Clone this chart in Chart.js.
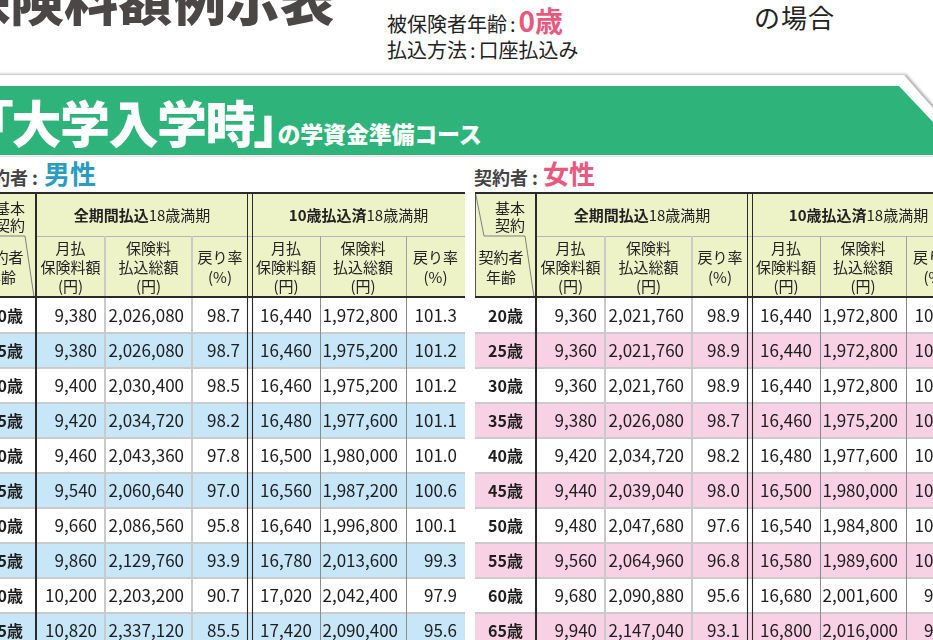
<!DOCTYPE html>
<html lang="ja">
<head>
<meta charset="utf-8">
<title>保険料額例示表</title>
<script src="https://cdn.jsdelivr.net/npm/chart.js@4.4.1/dist/chart.umd.min.js"></script>
<style>
html, body { margin: 0; padding: 0; width: 933px; height: 640px; overflow: hidden; background: #fff; }
#page { position: relative; width: 933px; height: 640px; overflow: hidden;
  font-family: "Noto Sans CJK JP", "Noto Sans", sans-serif; color: #222; }
.t { position: absolute; white-space: nowrap; line-height: 1; }
.c { margin: 0 3px; }
canvas.body { position: absolute; }
</style>
</head>
<body>
<div id="page">
  <svg style="position:absolute;left:0;top:0" width="933" height="640">
    <defs>
      <filter id="sh" x="-5%" y="-50%" width="110%" height="200%">
        <feDropShadow dx="2" dy="-0.5" stdDeviation="1.6" flood-color="#777" flood-opacity="0.7"/>
      </filter>
    </defs>
    <polygon points="-10,75 904,75 975,156 -10,156" fill="#fff" filter="url(#sh)"/>
    <polygon points="-10,86 899,86 964,155 -10,155" fill="#2eb47a"/>
  </svg>

  <div class="t" style="left:-44px;top:-29px;font-size:54px;font-weight:900;color:#4a4746;">保険料額例示表</div>
  <div class="t" style="left:387px;top:6px;font-size:20px;color:#222;">被保険者年齢<span class="c">:</span><span style="font-size:28px;font-weight:700;color:#e9587f;">0歳</span></div>
  <div class="t" style="left:754px;top:4px;font-size:26px;color:#222;letter-spacing:1px;">の場合</div>
  <div class="t" style="left:387px;top:40px;font-size:20px;color:#222;">払込方法<span class="c">:</span>口座払込み</div>

  <div class="t" style="left:-12px;top:96px;font-size:50px;font-weight:900;color:#fff;font-feature-settings:'palt';letter-spacing:-1.5px;">「大学入学時」<span style="font-size:23px;font-feature-settings:normal;letter-spacing:-0.2px;">の学資金準備コース</span></div>

  <div class="t" style="left:-26px;top:168px;font-size:18px;font-weight:700;color:#444;">契約者 :</div>
  <div class="t" style="left:44px;top:160px;font-size:26px;font-weight:700;color:#2a9cc0;">男性</div>
  <div class="t" style="left:474px;top:168px;font-size:18px;font-weight:700;color:#444;">契約者 :</div>
  <div class="t" style="left:543px;top:160px;font-size:26px;font-weight:700;color:#e9587f;">女性</div>

  <canvas id="maleBody" class="body"></canvas>
  <canvas id="femaleBody" class="body"></canvas>
</div>

<script>
// ---- data ----
const AGES = ["20歳","25歳","30歳","35歳","40歳","45歳","50歳","55歳","60歳","65歳"];
const GROUP_TITLES = ["全期間払込", "10歳払込済"];
const GROUP_SUFFIX = "18歳満期";
const SUB_HEADERS = [["月払","保険料額","(円)"], ["保険料","払込総額","(円)"], ["戻り率","(%)"]];

const maleMonthlyAll = [9380, 9380, 9400, 9420, 9460, 9540, 9660, 9860, 10200, 10820];
const maleTotalAll = [2026080, 2026080, 2030400, 2034720, 2043360, 2060640, 2086560, 2129760, 2203200, 2337120];
const maleRateAll = [98.7, 98.7, 98.5, 98.2, 97.8, 97.0, 95.8, 93.9, 90.7, 85.5];
const maleMonthly10 = [16440, 16460, 16460, 16480, 16500, 16560, 16640, 16780, 17020, 17420];
const maleTotal10 = [1972800, 1975200, 1975200, 1977600, 1980000, 1987200, 1996800, 2013600, 2042400, 2090400];
const maleRate10 = [101.3, 101.2, 101.2, 101.1, 101.0, 100.6, 100.1, 99.3, 97.9, 95.6];

const femaleMonthlyAll = [9360, 9360, 9360, 9380, 9420, 9440, 9480, 9560, 9680, 9940];
const femaleTotalAll = [2021760, 2021760, 2021760, 2026080, 2034720, 2039040, 2047680, 2064960, 2090880, 2147040];
const femaleRateAll = [98.9, 98.9, 98.9, 98.7, 98.2, 98.0, 97.6, 96.8, 95.6, 93.1];
const femaleMonthly10 = [16440, 16440, 16440, 16460, 16480, 16500, 16540, 16580, 16680, 16800];
const femaleTotal10 = [1972800, 1972800, 1972800, 1975200, 1977600, 1980000, 1984800, 1989600, 2001600, 2016000];
const femaleRate10 = [101.3, 101.3, 101.3, 101.2, 101.1, 101.0, 100.7, 100.5, 99.9, 99.2];

// ---- layout ----
const COL_W = [61, 69, 87, 56, 4, 68, 86, 59];   // age, 3 cols, double-line gap, 3 cols
const EDGE = [0];
COL_W.forEach(w => EDGE.push(EDGE[EDGE.length - 1] + w));
const TABLE_W = EDGE[EDGE.length - 1];
const HEAD_TOP = 193, HEAD_MID = 236, HEAD_BOT = 297, ROW_H = 35;
const HEAD_BG = "#edf2c7", DARK = "#2a2a2a", FONT = '"Noto Sans CJK JP", "Noto Sans", sans-serif';
const COL_OF_DATASET = { 1: 0, 2: 1, 3: 2, 5: 3, 6: 4, 7: 5 };

const page = document.getElementById("page");

function put(css, html) {
  const d = document.createElement("div");
  d.style.cssText = "position:absolute;" + css;
  if (html != null) d.innerHTML = html;
  page.appendChild(d);
  return d;
}
function rect(x, y, w, h, color) {
  return put(`left:${x}px;top:${y}px;width:${w}px;height:${h}px;background:${color};`);
}

// ---- header (html) ----
function buildHeader(x0) {
  rect(x0, HEAD_TOP, TABLE_W, HEAD_BOT - HEAD_TOP, HEAD_BG);
  put(`left:${x0}px;top:${HEAD_TOP}px;`,
    `<svg width="62" height="106" style="display:block"><polyline points="0.5,0 9,43 50,43 59,104" fill="none" stroke="#808080" stroke-width="1"/></svg>`);

  rect(x0 + EDGE[1], HEAD_MID, TABLE_W - EDGE[1], 1, "#b5b5b5");
  rect(x0 + EDGE[2] - 1, HEAD_MID, 2, HEAD_BOT - HEAD_MID, "#cacaca");
  rect(x0 + EDGE[3] - 1, HEAD_MID, 2, HEAD_BOT - HEAD_MID, "#cacaca");
  rect(x0 + EDGE[6], HEAD_MID, 1, HEAD_BOT - HEAD_MID, "#a0a0a0");
  rect(x0 + EDGE[7], HEAD_MID, 1, HEAD_BOT - HEAD_MID, "#a0a0a0");
  rect(x0, HEAD_TOP, 1, HEAD_BOT - HEAD_TOP, "#555");
  rect(x0 + EDGE[1] - 1, HEAD_TOP, 2, HEAD_BOT - HEAD_TOP, DARK);
  rect(x0 + EDGE[4] - 1, HEAD_TOP, 1, HEAD_BOT - HEAD_TOP, DARK);
  rect(x0 + EDGE[5], HEAD_TOP, 1, HEAD_BOT - HEAD_TOP, DARK);
  rect(x0, HEAD_TOP - 1, TABLE_W, 2, DARK);
  rect(x0, HEAD_BOT - 1, TABLE_W, 2, DARK);

  const txt = "white-space:nowrap;text-align:center;font-size:15px;color:#222;";
  put(`left:${x0 + 5}px;top:199px;width:60px;line-height:17px;${txt}`, "基本<br>契約");
  put(`left:${x0 - 4}px;top:247px;width:60px;line-height:20px;${txt}`, "契約者<br>年齢");

  GROUP_TITLES.forEach((g, gi) => {
    const a = EDGE[gi ? 5 : 1], b = EDGE[gi ? 8 : 4];
    put(`left:${x0 + a}px;top:205px;width:${b - a}px;line-height:20px;${txt}`,
      `<b>${g}</b>${GROUP_SUFFIX}`);
  });

  [1, 2, 3, 5, 6, 7].forEach(ci => {
    const lines = SUB_HEADERS[COL_OF_DATASET[ci] % 3];
    const lh = lines.length === 3 ? 19 : 20;
    put(`left:${x0 + EDGE[ci]}px;top:${HEAD_MID}px;width:${COL_W[ci]}px;height:${HEAD_BOT - HEAD_MID}px;` +
      `display:flex;align-items:center;justify-content:center;line-height:${lh}px;${txt}`,
      `<div>${lines.join("<br>")}</div>`);
  });
}

// ---- body (chart.js) ----
const V_LINES = [
  [1, DARK, 2, 0], [2, "#cacaca", 2, 0], [3, "#cacaca", 2, 0],
  [4, DARK, 1.1, -0.5], [5, DARK, 1.1, 0.5], [6, "#8c8c8c", 1, 0.5], [7, "#8c8c8c", 1, 0.5]
];

const cellPlugin = {
  id: "cellText",
  afterDatasetsDraw(chart, args, opts) {
    const ctx = chart.ctx;
    const area = chart.chartArea;
    const metas = chart.data.datasets.map((d, i) => chart.getDatasetMeta(i));
    ctx.save();

    // row separators
    ctx.strokeStyle = "#cbcbcb";
    ctx.lineWidth = 2;
    metas[0].data.forEach((bar, r) => {
      if (!r) return;
      const y = bar.y - bar.height / 2;
      ctx.beginPath(); ctx.moveTo(area.left, y); ctx.lineTo(area.right, y); ctx.stroke();
    });

    // column lines
    V_LINES.forEach(([di, color, w, shift]) => {
      const x = metas[di].data[0].base + shift;
      ctx.strokeStyle = color; ctx.lineWidth = w;
      ctx.beginPath(); ctx.moveTo(x, area.top); ctx.lineTo(x, area.bottom); ctx.stroke();
    });

    // cell text
    ctx.fillStyle = "#1e1e1e";
    ctx.textBaseline = "alphabetic";
    metas.forEach((meta, di) => {
      meta.data.forEach((bar, r) => {
        const baseY = bar.y + 6;
        if (di === 0) {
          ctx.font = `bold 16px ${FONT}`;
          ctx.textAlign = "center";
          ctx.fillText(chart.data.labels[r], (bar.base + bar.x) / 2, baseY);
          return;
        }
        const ci = COL_OF_DATASET[di];
        if (ci === undefined) return;
        const v = opts.cols[ci][r];
        const s = ci % 3 === 2 ? v.toFixed(1) : v.toLocaleString("en-US");
        ctx.font = `17px ${FONT}`;
        ctx.textAlign = "right";
        ctx.fillText(s, bar.x - 8, baseY);
      });
    });
    ctx.restore();
  }
};

function buildBody(canvasId, x0, cols, stripe) {
  const cv = document.getElementById(canvasId);
  cv.style.left = x0 + "px";
  cv.style.top = (HEAD_BOT + 1) + "px";
  cv.style.width = TABLE_W + "px";
  cv.style.height = ROW_H * AGES.length + "px";
  cv.width = TABLE_W;
  cv.height = ROW_H * AGES.length;

  new Chart(cv, {
    type: "bar",
    data: {
      labels: AGES,
      datasets: COL_W.map(w => ({
        data: AGES.map(() => w),
        backgroundColor: AGES.map((_, r) => r % 2 ? stripe : "#ffffff"),
        borderWidth: 0,
        barPercentage: 1,
        categoryPercentage: 1
      }))
    },
    options: {
      indexAxis: "y",
      responsive: false,
      animation: false,
      layout: { padding: 0 },
      events: [],
      plugins: {
        legend: { display: false },
        tooltip: { enabled: false },
        cellText: { cols }
      },
      scales: {
        x: { stacked: true, min: 0, max: TABLE_W, display: false },
        y: { stacked: true, display: false }
      }
    },
    plugins: [cellPlugin]
  });
}

buildBody("maleBody", -25,
  [maleMonthlyAll, maleTotalAll, maleRateAll, maleMonthly10, maleTotal10, maleRate10], "#c7e6f8");
buildBody("femaleBody", 475,
  [femaleMonthlyAll, femaleTotalAll, femaleRateAll, femaleMonthly10, femaleTotal10, femaleRate10], "#f8d2e4");
buildHeader(-25);
buildHeader(475);
</script>
</body>
</html>
